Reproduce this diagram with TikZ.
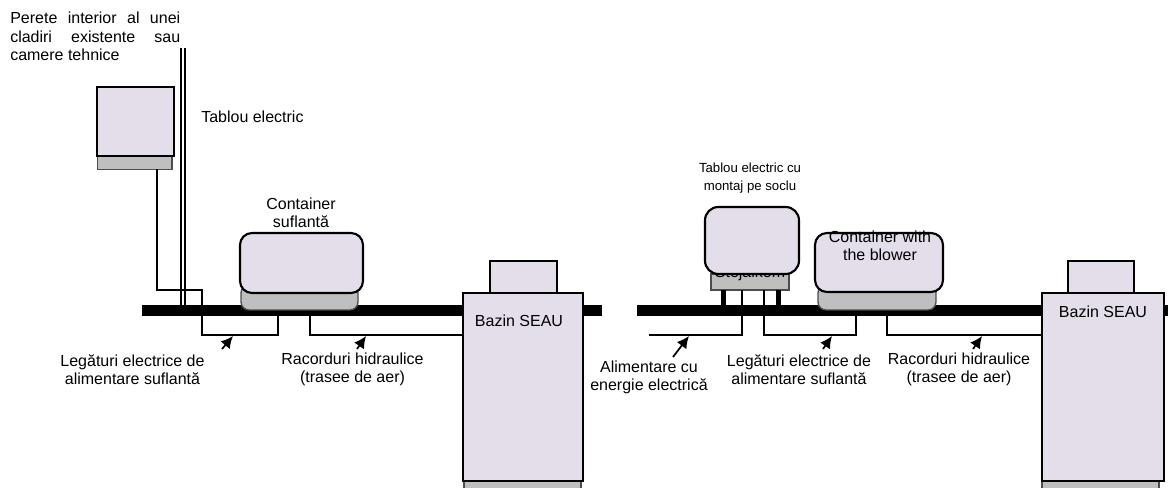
\documentclass[tikz,border=0pt]{standalone}
\usepackage{fontspec}
\setmainfont{Liberation Sans}
\usetikzlibrary{arrows.meta}
\definecolor{lav}{HTML}{E3DEEA}
\definecolor{gry}{HTML}{BFBFBF}
\tikzset{
  body/.style={draw=black,line width=1.6pt,fill=lav},
  base/.style={draw=black!70,line width=1pt,fill=gry},
  wire/.style={draw=black,line width=1.5pt,line join=miter},
  leader/.style={draw=black,line width=1.3pt,-{Latex[length=9pt,width=9pt]}},
  bar/.style={fill=black},
  lbl/.style={font=\fontsize{12}{13.9}\selectfont,align=center,inner sep=0pt},
  small/.style={font=\fontsize{9.9}{13.2}\selectfont,align=center,inner sep=0pt},
}
\begin{document}
\begin{tikzpicture}[x=0.75pt,y=-0.75pt]
\useasboundingbox (0,0) rectangle (1168,488);
% bars
\path[bar] (142,305) rectangle (602,316);
\path[bar] (637,305) rectangle (1168,316);
% wall
\coordinate (w1t) at (180.7,48); \coordinate (w1b) at (180.7,306);
\coordinate (w2t) at (185.3,48); \coordinate (w2b) at (185.3,306);
\draw[wire] (w1t) -- (w1b);
\draw[wire] (w2t) -- (w2b);
% left panel
\draw[base] (97.7,156) rectangle (172,169.5);
\draw[body] (96.7,87) rectangle (173.7,156);
\coordinate (p1) at (156.7,169.5); \coordinate (c1) at (278,316);
\draw[wire] (p1) |- (202,290) -- (202,335) -| (c1);
% left container
\draw[base,rounded corners=6pt] (241,285) rectangle (358,310);
\draw[body,rounded corners=9pt] (240,233) rectangle (363,293);
% left basin
\coordinate (h1) at (310,316); \coordinate (b1) at (464,335);
\draw[wire] (h1) |- (b1);
\draw[base] (464,481) rectangle (581,490);
\draw[body] (490,261) rectangle (557,293);
\draw[body] (463,293) rectangle (583,481);
% right panel
\draw[base] (711,274) rectangle (789,290);
\node[font=\fontsize{12}{13.9}\selectfont,inner sep=0pt,anchor=base] (hid) at (750,278) {Stejalkom};
\path[fill=black] (721.2,290) rectangle (726.2,305);
\path[fill=black] (775.5,290) rectangle (780.5,305);
\draw[body,rounded corners=10pt] (705,207) rectangle (799,274);
\coordinate (l1) at (741.7,290); \coordinate (l2) at (764,290);
\coordinate (e1) at (649,335); \coordinate (c2) at (856,316);
\draw[wire] (l1) -- (741.7,335) -- (e1);
\draw[wire] (l2) -- (764,335) -| (c2);
% right container
\draw[base,rounded corners=6pt] (818,285) rectangle (936,310);
\draw[body,rounded corners=9pt] (815,233) rectangle (943,292);
% right basin
\coordinate (h2) at (887,316); \coordinate (b2) at (1042,335);
\draw[wire] (h2) |- (b2);
\draw[base] (1042,481) rectangle (1159,490);
\draw[body] (1068,261) rectangle (1134,293);
\draw[body] (1042,293) rectangle (1164,481);
% leaders
\coordinate (a1s) at (222,349); \coordinate (a1e) at (233,336);
\coordinate (a2s) at (357,349); \coordinate (a2e) at (366,336);
\coordinate (a3s) at (673,357); \coordinate (a3e) at (689,336);
\coordinate (a4s) at (823,349); \coordinate (a4e) at (832,336);
\coordinate (a5s) at (973,349); \coordinate (a5e) at (982,336);
\foreach \n in {1,...,5} \draw[leader] (a\n s) -- (a\n e);
% text
\node[lbl,anchor=west] (wall1) at (10,18) {\hbox to 127.5pt{Perete\hfill interior\hfill al\hfill unei}};
\node[lbl,anchor=west] (wall2) at (10,37) {\hbox to 127.5pt{cladiri\hfill existente\hfill sau}};
\node[lbl,anchor=west] (wall3) at (10,55) {camere tehnice};
\node[lbl,anchor=west] (te) at (201,117) {Tablou electric};
\node[lbl] (cs) at (301,213) {Container\\suflantă};
\node[lbl] (le1) at (132.5,369.5) {Legături electrice de\\alimentare suflantă};
\node[lbl] (ra1) at (352.5,369.5) {Racorduri hidraulice\\(trasee de aer)};
\node[lbl] (bz1) at (519,321) {Bazin SEAU};
\node[small] (tp) at (750,178) {Tablou electric cu\\montaj pe soclu};
\node[lbl] (cb) at (880,246) {Container with\\the blower};
\node[lbl] (al) at (649,377.5) {Alimentare cu\\energie electrică};
\node[lbl] (le2) at (799,369.5) {Legături electrice de\\alimentare suflantă};
\node[lbl] (ra2) at (959,369.5) {Racorduri hidraulice\\(trasee de aer)};
\node[lbl] (bz2) at (1103,312) {Bazin SEAU};
\end{tikzpicture}
\end{document}
